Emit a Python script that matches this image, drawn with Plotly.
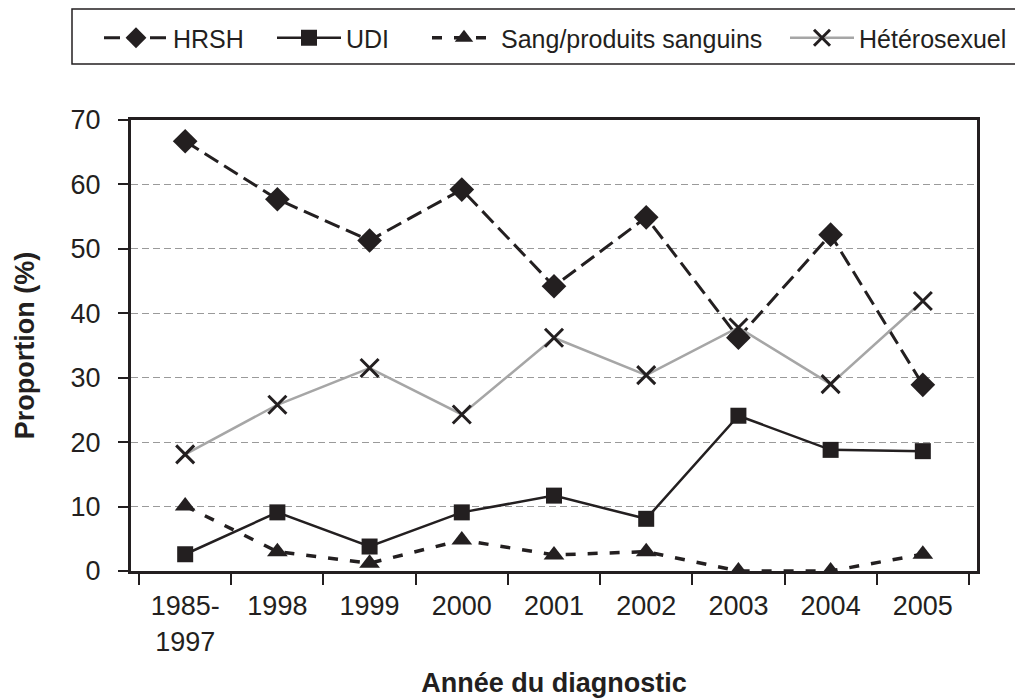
import plotly.graph_objs as go

# data
annees = ["1985-<br>1997", "1998", "1999", "2000", "2001", "2002", "2003", "2004", "2005"]
hrsh = [66.7, 57.7, 51.3, 59.2, 44.2, 54.9, 36.2, 52.2, 28.9]
udi = [2.6, 9.1, 3.8, 9.1, 11.7, 8.1, 24.1, 18.8, 18.6]
sang = [10.1, 3.0, 1.2, 4.8, 2.5, 3.0, 0.0, 0.0, 2.6]
hetero = [18.1, 25.8, 31.5, 24.3, 36.2, 30.4, 37.8, 29.0, 41.9]

# page body has an 8px margin, so the figure is 8px smaller than the window
OFF = 8
W, H = 1023 - OFF, 698 - OFF
L, R, T, B = 123, 46, 112, 127
pw = W - L - R
ph = H - T - B

ink = "#231f20"
font = "Liberation Sans, Arial, sans-serif"


# screen pixel -> paper coords
def px_x(x):
  return (x - OFF - L) / pw


def px_y(y):
  return (H - B - (y - OFF)) / ph


fig = go.Figure()

fig.add_trace(go.Scatter(
  x=annees, y=hrsh, name="HRSH", mode="lines+markers",
  line=dict(color=ink, width=3, dash="16px,7px"),
  marker=dict(symbol="diamond", size=19, color=ink),
  legend="legend",
))
fig.add_trace(go.Scatter(
  x=annees, y=udi, name="UDI", mode="lines+markers",
  line=dict(color=ink, width=2.5),
  marker=dict(symbol="square", size=16, color=ink),
  legend="legend2",
))
fig.add_trace(go.Scatter(
  x=annees, y=sang, name="Sang/produits sanguins", mode="lines+markers",
  line=dict(color=ink, width=3.5, dash="10px,12px"),
  marker=dict(symbol="triangle-up", size=18, color=ink),
  legend="legend3",
))
fig.add_trace(go.Scatter(
  x=annees, y=hetero, name="Hétérosexuel", mode="lines+markers",
  line=dict(color="#a6a6a6", width=2.5),
  marker=dict(symbol="x-thin", size=18, color=ink, line=dict(color=ink, width=3)),
  legend="legend4",
))

# one legend per entry so each sits where the reference has it
leg_common = dict(
  orientation="h", yanchor="middle", xanchor="left",
  bgcolor="rgba(0,0,0,0)", borderwidth=0, itemwidth=64,
  font=dict(family=font, size=25, color=ink),
)
fig.update_layout(
  showlegend=True,
  legend=dict(x=px_x(99), y=px_y(38), **leg_common),
  legend2=dict(x=px_x(272), y=px_y(38), **leg_common),
  legend3=dict(x=px_x(427), y=px_y(38), **leg_common),
  legend4=dict(x=px_x(785), y=px_y(38), **leg_common),
)

# legend frame
fig.add_shape(type="rect", xref="paper", yref="paper",
              x0=px_x(72), x1=px_x(1040), y0=px_y(64), y1=px_y(9),
              line=dict(color=ink, width=1.5), fillcolor="rgba(0,0,0,0)")

fig.update_layout(
  width=W, height=H,
  margin=dict(l=L, r=R, t=T, b=B, autoexpand=False),
  paper_bgcolor="white", plot_bgcolor="white",
  font=dict(family=font, color=ink),
  xaxis=dict(
    type="category",
    showline=True, linecolor=ink, linewidth=3, mirror=True,
    ticks="outside", tickson="boundaries", ticklen=11, tickwidth=1.5, tickcolor=ink,
    ticklabelstandoff=9,
    tickfont=dict(size=27, color=ink),
    showgrid=False,
    title=dict(text="<b>Année du diagnostic</b>", font=dict(size=27, color=ink), standoff=24),
  ),
  yaxis=dict(
    range=[0, 70], dtick=10,
    showline=True, linecolor=ink, linewidth=3, mirror=True,
    ticks="outside", ticklen=10, tickwidth=1.5, tickcolor=ink,
    ticklabelstandoff=12,
    tickfont=dict(size=27, color=ink),
    showgrid=True, gridcolor="#9a9a9a", gridwidth=1.2, griddash="7px,4px",
    zeroline=False,
    title=dict(text="<b>Proportion (%)</b>", font=dict(size=27, color=ink), standoff=29),
  ),
)

fig.write_html("out.html")
